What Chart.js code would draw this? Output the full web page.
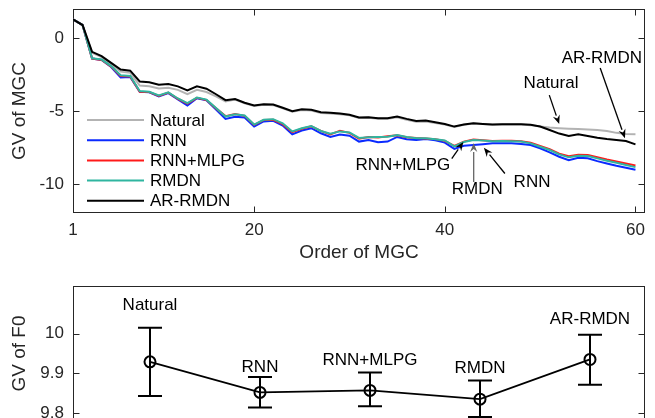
<!DOCTYPE html>
<html><head><meta charset="utf-8">
<script src="https://cdn.jsdelivr.net/npm/chart.js@4.4.1/dist/chart.umd.min.js"></script>
<style>
html,body{margin:0;padding:0;background:#fff;overflow:hidden;width:655px;height:418px;}
#c1{position:absolute;left:0;top:0;}
#c2{position:absolute;left:0;top:270px;}
</style></head><body>
<canvas id="c1" width="655" height="270"></canvas>
<canvas id="c2" width="655" height="200"></canvas>
<script>
// ---------- Top panel data: GV of MGC per order ----------
const mgcOrder = [1,2,3,4,5,6,7,8,9,10,11,12,13,14,15,16,17,18,19,20,21,22,23,24,25,26,27,28,29,30,
  31,32,33,34,35,36,37,38,39,40,41,42,43,44,45,46,47,48,49,50,51,52,53,54,55,56,57,58,59,60];
const gvNatural = [1.29,0.90,-1.00,-1.30,-1.80,-2.30,-2.38,-3.25,-3.30,-3.45,-3.40,-3.55,-3.84,-3.55,-3.70,-4.00,-4.35,-4.22,-4.47,-4.66,
  -4.57,-4.60,-4.82,-5.05,-4.93,-4.97,-5.13,-5.18,-5.22,-5.30,-5.48,-5.47,-5.53,-5.53,-5.43,-5.60,-5.74,-5.72,-5.82,-5.93,
  -6.09,-5.95,-5.86,-5.90,-5.94,-5.92,-5.92,-5.93,-5.97,-6.06,-6.14,-6.18,-6.21,-6.24,-6.27,-6.30,-6.37,-6.50,-6.58,-6.60];
const gvRNN = [1.29,0.90,-1.40,-1.50,-1.98,-2.70,-2.66,-3.68,-3.72,-4.00,-3.77,-4.20,-4.62,-4.12,-4.26,-4.90,-5.54,-5.40,-5.45,-6.07,
  -5.72,-5.67,-6.00,-6.60,-6.34,-6.18,-6.53,-6.78,-6.62,-6.70,-7.10,-6.99,-7.15,-7.10,-6.78,-6.94,-6.99,-6.92,-7.01,-7.17,
  -7.60,-7.38,-7.33,-7.28,-7.22,-7.22,-7.22,-7.26,-7.33,-7.56,-7.84,-8.14,-8.37,-8.21,-8.25,-8.44,-8.60,-8.76,-8.90,-9.03];
const gvRNNMLPG = [1.29,0.90,-1.40,-1.50,-1.95,-2.60,-2.63,-3.68,-3.70,-3.96,-3.74,-4.16,-4.50,-4.10,-4.25,-4.82,-5.35,-5.20,-5.33,-5.95,
  -5.62,-5.60,-5.90,-6.45,-6.22,-6.05,-6.36,-6.60,-6.35,-6.50,-6.90,-6.78,-6.82,-6.74,-6.66,-6.80,-6.86,-6.88,-6.93,-7.05,
  -7.40,-7.10,-6.96,-7.00,-7.06,-7.04,-7.05,-7.08,-7.18,-7.40,-7.62,-7.93,-8.10,-8.00,-8.02,-8.18,-8.33,-8.46,-8.60,-8.74];
const gvRMDN = [1.29,0.90,-1.38,-1.47,-1.92,-2.55,-2.60,-3.63,-3.68,-3.93,-3.72,-4.14,-4.46,-4.07,-4.22,-4.80,-5.38,-5.22,-5.31,-5.93,
  -5.60,-5.56,-5.84,-6.40,-6.18,-6.03,-6.37,-6.56,-6.40,-6.47,-6.85,-6.80,-6.78,-6.76,-6.64,-6.78,-6.87,-6.87,-6.94,-7.02,
  -7.43,-7.13,-6.99,-7.03,-7.08,-7.06,-7.08,-7.10,-7.22,-7.45,-7.68,-7.98,-8.18,-8.07,-8.09,-8.25,-8.41,-8.55,-8.70,-8.85];
const gvARRMDN = [1.29,0.90,-0.94,-1.24,-1.70,-2.16,-2.23,-2.97,-3.03,-3.19,-3.15,-3.31,-3.59,-3.31,-3.47,-3.85,-4.26,-4.18,-4.43,-4.62,
  -4.53,-4.55,-4.78,-5.01,-4.88,-4.92,-5.08,-5.12,-5.17,-5.26,-5.45,-5.43,-5.49,-5.49,-5.38,-5.54,-5.68,-5.66,-5.77,-5.89,
  -6.07,-5.92,-5.84,-5.89,-5.93,-5.91,-5.91,-5.91,-5.95,-6.07,-6.30,-6.55,-6.71,-6.60,-6.71,-6.83,-6.92,-6.99,-7.06,-7.29];
const seriesNames = ['Natural','RNN','RNN+MLPG','RMDN','AR-RMDN'];
const mgcXTicks = [1,20,40,60];
const mgcYTicks = [-10,-5,0];

// ---------- Bottom panel data: GV of F0 ----------
const f0Names = ['Natural','RNN','RNN+MLPG','RMDN','AR-RMDN'];
const f0Pos = [1,2,3,4,5];
const f0Mean = [9.929,9.852,9.857,9.835,9.935];
const f0Upper = [10.015,9.891,9.902,9.882,9.997];
const f0Lower = [9.843,9.814,9.817,9.790,9.871];
const f0LabelY = [10.071,9.915,9.933,9.912,10.035];
const f0YTicks = [9.8,9.9,10];
const f0YTickLabels = ['9.8','9.9','10'];

// ---------- styling ----------
const FONT = "'Liberation Sans', Arial, Helvetica, sans-serif";
const AX = '#262626';
const colors = ['#b3b3b3','#0a2aff','#ff1a1a','#2fb5a0','#000000'];

function pts(xs, ys){ return ys.map((v,i)=>({x:xs[i], y:v})); }
function fitY(s){ s.width = 73; s.paddingTop = 0; s.paddingBottom = 0; }
function fitX(h){ return s=>{ s.height = h; s.paddingLeft = 0; s.paddingRight = 0; }; }

const boxPlugin = {
  id:'mbox',
  beforeDatasetsDraw(chart, args, opts){
    const {ctx, chartArea:a, scales} = chart;
    ctx.save();
    ctx.strokeStyle = AX; ctx.lineWidth = 1;
    const L = Math.round(a.left)+0.5, R = Math.round(a.right)-0.5, T = Math.round(a.top)+0.5, B = Math.round(a.bottom)-0.5;
    ctx.strokeRect(L, T, R-L, B-T);
    const tl = 6;
    ctx.beginPath();
    if (opts.xTicks){
      scales.x.ticks.forEach(t=>{
        const px = Math.round(scales.x.getPixelForValue(t.value))+0.5;
        ctx.moveTo(px,B); ctx.lineTo(px,B-tl);
        ctx.moveTo(px,T); ctx.lineTo(px,T+tl);
      });
    }
    scales.y.ticks.forEach(t=>{
      const py = Math.round(scales.y.getPixelForValue(t.value))+0.5;
      ctx.moveTo(L,py); ctx.lineTo(L+tl,py);
      ctx.moveTo(R,py); ctx.lineTo(R-tl,py);
    });
    ctx.stroke();
    ctx.restore();
  }
};

const legendPlugin = {
  id:'mlegend',
  afterDraw(chart){
    const {ctx, chartArea:a} = chart;
    ctx.save();
    ctx.font = '17px ' + FONT;
    ctx.textBaseline = 'middle';
    ctx.textAlign = 'left';
    seriesNames.forEach((n,i)=>{
      const y = a.top + 111 + i*20.2;
      ctx.strokeStyle = colors[i]; ctx.lineWidth = 2;
      ctx.beginPath(); ctx.moveTo(a.left+14, y); ctx.lineTo(a.left+71, y); ctx.stroke();
      ctx.fillStyle = '#000';
      ctx.fillText(n, a.left+77, y+1);
    });
    ctx.restore();
  }
};

// annotation positions in data units: text (tx,ty), arrow from (x0,y0) to (x1,y1)
const mgcNotes = [
  {text:'AR-RMDN', tx:56.47, ty:-1.39, x0:56.3, y0:-2.05, x1:58.9, y1:-6.87, color:'#000'},
  {text:'Natural', tx:51.14, ty:-3.11, x0:50.96, y0:-3.91, x1:52.0, y1:-5.9, color:'#000'},
  {text:'RNN+MLPG', tx:35.6, ty:-8.72, x0:40.73, y0:-8.26, x1:41.95, y1:-7.12, color:'#000'},
  {text:'RMDN', tx:43.4, ty:-10.39, x0:43.03, y0:-9.87, x1:43.03, y1:-7.2, color:'#666'},
  {text:'RNN', tx:49.15, ty:-9.87, x0:46.3, y0:-9.29, x1:44.1, y1:-7.52, color:'#000'}
];

function arrow(ctx, x0,y0,x1,y1,color){
  ctx.strokeStyle = color; ctx.fillStyle = color; ctx.lineWidth = 1.3;
  const ang = Math.atan2(y1-y0, x1-x0);
  const hl = 9, hw = 3.6;
  const bx = x1 - hl*Math.cos(ang), by = y1 - hl*Math.sin(ang);
  ctx.beginPath(); ctx.moveTo(x0,y0); ctx.lineTo(bx,by); ctx.stroke();
  ctx.beginPath();
  ctx.moveTo(x1,y1);
  ctx.lineTo(bx + hw*Math.sin(ang), by - hw*Math.cos(ang));
  ctx.lineTo(x1 - 6*Math.cos(ang), y1 - 6*Math.sin(ang));
  ctx.lineTo(bx - hw*Math.sin(ang), by + hw*Math.cos(ang));
  ctx.closePath(); ctx.fill();
}

const notePlugin = {
  id:'mnotes',
  afterDraw(chart){
    const {ctx, scales:{x,y}} = chart;
    ctx.save();
    ctx.font = '17px ' + FONT;
    ctx.textAlign = 'center'; ctx.textBaseline = 'middle';
    mgcNotes.forEach(n=>{
      ctx.fillStyle = '#000';
      ctx.fillText(n.text, x.getPixelForValue(n.tx), y.getPixelForValue(n.ty));
      arrow(ctx, x.getPixelForValue(n.x0), y.getPixelForValue(n.y0), x.getPixelForValue(n.x1), y.getPixelForValue(n.y1), n.color);
    });
    ctx.restore();
  }
};

const datasets = [gvNatural, gvRNN, gvRNNMLPG, gvRMDN, gvARRMDN].map((arr,i)=>({
  label: seriesNames[i],
  data: pts(mgcOrder, arr),
  borderColor: colors[i],
  borderWidth: 2,
  pointRadius: 0,
  tension: 0,
  fill: false,
  order: 5 - i
}));

new Chart(document.getElementById('c1'), {
  type:'line',
  data:{datasets},
  options:{
    responsive:false, animation:false, devicePixelRatio:1,
    layout:{padding:{top:9,right:10,left:0,bottom:0}},
    plugins:{legend:{display:false}, tooltip:{enabled:false}, mbox:{xTicks:true}},
    scales:{
      x:{type:'linear', min:1, max:61,
        afterBuildTicks:s=>{ s.ticks = mgcXTicks.map(v=>({value:v})); },
        afterFit:fitX(57),
        grid:{display:false, drawTicks:false}, border:{display:false},
        ticks:{font:{family:FONT,size:17}, color:AX, padding:7, maxRotation:0, autoSkip:false},
        title:{display:true, text:'Order of MGC', font:{family:FONT,size:19}, color:AX, padding:{top:0,bottom:6}}
      },
      y:{type:'linear', min:-12, max:2,
        afterBuildTicks:s=>{ s.ticks = mgcYTicks.map(v=>({value:v})); },
        afterFit:fitY,
        grid:{display:false, drawTicks:false}, border:{display:false},
        ticks:{font:{family:FONT,size:17}, color:AX, padding:9, autoSkip:false},
        title:{display:true, text:'GV of MGC', font:{family:FONT,size:19}, color:AX, padding:{top:8,bottom:0}}
      }
    }
  },
  plugins:[boxPlugin, legendPlugin, notePlugin]
});

// ---------- bottom ----------
const errPlugin = {
  id:'merr',
  afterDatasetsDraw(chart){
    const {ctx, scales:{x,y}} = chart;
    ctx.save();
    ctx.strokeStyle = '#000'; ctx.lineWidth = 2;
    f0Pos.forEach((p,i)=>{
      const px = x.getPixelForValue(p);
      const yt = y.getPixelForValue(f0Upper[i]), yb = y.getPixelForValue(f0Lower[i]);
      ctx.beginPath();
      ctx.moveTo(px,yt); ctx.lineTo(px,yb);
      ctx.moveTo(px-12,yt); ctx.lineTo(px+12,yt);
      ctx.moveTo(px-12,yb); ctx.lineTo(px+12,yb);
      ctx.stroke();
    });
    ctx.font = '17px ' + FONT;
    ctx.fillStyle = '#000'; ctx.textAlign='center'; ctx.textBaseline='middle';
    f0Pos.forEach((p,i)=>{
      ctx.fillText(f0Names[i], x.getPixelForValue(p), y.getPixelForValue(f0LabelY[i]));
    });
    ctx.restore();
  }
};

new Chart(document.getElementById('c2'), {
  type:'line',
  data:{datasets:[{
    label:'GV of F0',
    data: pts(f0Pos, f0Mean),
    borderColor:'#000', borderWidth:1.8,
    pointRadius:5.5, pointBorderWidth:2, pointBorderColor:'#000',
    pointBackgroundColor:'rgba(0,0,0,0)', pointStyle:'circle',
    tension:0, fill:false
  }]},
  options:{
    responsive:false, animation:false, devicePixelRatio:1,
    layout:{padding:{top:16,right:10,left:0,bottom:0}},
    plugins:{legend:{display:false}, tooltip:{enabled:false}, mbox:{xTicks:false}},
    scales:{
      x:{type:'linear', min:0.3, max:5.5,
        afterFit:fitX(49),
        grid:{display:false, drawTicks:false}, border:{display:false},
        ticks:{display:false}
      },
      y:{type:'linear', min:9.78, max:10.12,
        afterBuildTicks:s=>{ s.ticks = f0YTicks.map(v=>({value:v})); },
        afterFit:fitY,
        grid:{display:false, drawTicks:false}, border:{display:false},
        ticks:{font:{family:FONT,size:17}, color:AX, padding:9, autoSkip:false,
          callback:(v)=>{ const k = f0YTicks.findIndex(t=>Math.abs(t-v)<1e-9); return k>=0 ? f0YTickLabels[k] : ''; }},
        title:{display:true, text:'GV of F0', font:{family:FONT,size:19}, color:AX, padding:{top:8,bottom:0}}
      }
    }
  },
  plugins:[boxPlugin, errPlugin]
});
</script>
</body></html>
